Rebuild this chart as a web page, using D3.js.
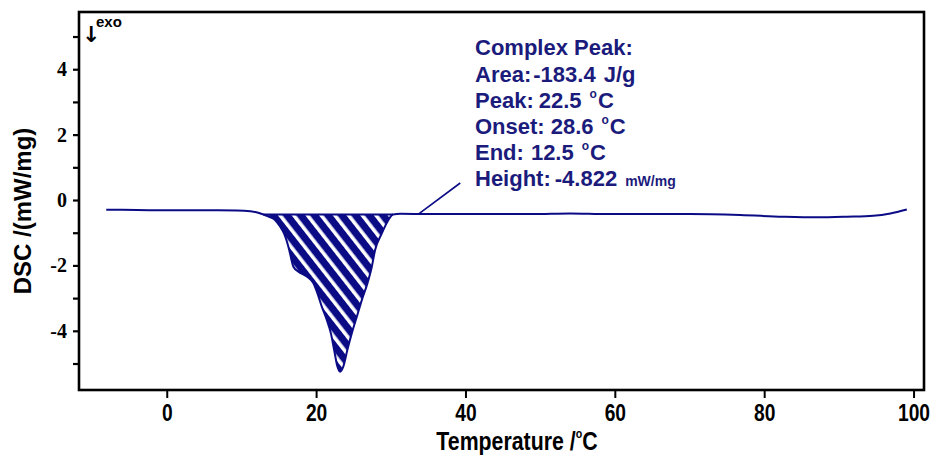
<!DOCTYPE html>
<html>
<head>
<meta charset="utf-8">
<script src="https://cdn.jsdelivr.net/npm/d3@7"></script>
<style>
  html, body { margin: 0; padding: 0; background: #fff; }
  svg { display: block; }
</style>
</head>
<body>
<svg id="chart" width="932" height="462"></svg>
<script>
// ---- data ----
const temps = [-8.1, -6, -2, 2, 5.4, 9.4, 11.2, 12.0, 12.9, 13.8, 14.5, 15.2, 15.7, 16.4, 16.65, 16.96, 17.63, 18.75, 19.64, 20.17, 20.76, 21.43, 21.97, 22.41, 22.85, 23.21, 23.65, 24.19, 24.78, 25.45, 26.12, 26.87, 27.46, 27.9, 28.8, 29.68, 30.3, 31.3, 35, 40, 49, 54, 59, 65, 70, 76.8, 82.5, 87.1, 91.1, 94.6, 96.9, 99.1];
const dsc   = [-0.30, -0.30, -0.31, -0.31, -0.315, -0.32, -0.345, -0.375, -0.44, -0.52, -0.61, -0.82, -1.02, -1.53, -1.78, -2.04, -2.19, -2.34, -2.55, -2.85, -3.26, -3.67, -4.07, -4.58, -5.09, -5.25, -5.09, -4.58, -4.07, -3.57, -3.06, -2.55, -2.04, -1.53, -1.02, -0.61, -0.44, -0.42, -0.43, -0.43, -0.43, -0.41, -0.43, -0.43, -0.43, -0.46, -0.51, -0.53, -0.51, -0.48, -0.41, -0.29];
const peakStart = 12.9, peakEnd = 30.3, peakBase = -0.44;
const leaderFrom = [33.7, -0.43], leaderTo = [39.3, 0.52];
const xTicks = [0, 20, 40, 60, 80, 100];
const yTicks = [-5, -4, -3, -2, -1, 0, 1, 2, 3, 4, 5];
const yLabelled = [-4, -2, 0, 2, 4];
const xDomain = [-11.75, 101.4];
const yDomain = [-5.81, 5.75];
const xTitle = "Temperature /";
const yTitle = "DSC /(mW/mg)";
const infoTitle = "Complex Peak:";
const infoArea = ["Area:", "-183.4", "J/g"];
const infoPeak = ["Peak:", "22.5"];
const infoOnset = ["Onset:", "28.6"];
const infoEnd = ["End:", "12.5"];
const infoHeight = ["Height:", "-4.822", "mW/mg"];

(function () {
// ---- layout ----
const pLeft = 79, pRight = 924, pTop = 12, pBottom = 390;
const navy = "#0b0b86";
const textNavy = "#1b1b7c";
const sans = "'Liberation Sans', Arial, sans-serif";

const svg = d3.select("#chart");
const x = d3.scaleLinear().domain(xDomain).range([pLeft, pRight]);
const y = d3.scaleLinear().domain(yDomain).range([pBottom, pTop]);

// hatch pattern
const defs = svg.append("defs");
const pat = defs.append("pattern")
  .attr("id", "hatch").attr("patternUnits", "userSpaceOnUse")
  .attr("width", 10.8).attr("height", 10.8)
  .attr("patternTransform", "rotate(-38)");
pat.append("rect").attr("width", 10.8).attr("height", 10.8).attr("fill", navy);
pat.append("rect").attr("x", 0).attr("width", 3.6).attr("height", 10.8).attr("fill", "#fff");

const pts = temps.map((t, i) => ({t, v: dsc[i]}));
const peakPts = pts.filter(p => p.t >= peakStart - 1e-9 && p.t <= peakEnd + 1e-9);

// hatched area
svg.append("path")
  .datum(peakPts)
  .attr("fill", "url(#hatch)")
  .attr("d", d3.area().x(p => x(p.t)).y0(y(peakBase)).y1(p => y(p.v)).curve(d3.curveMonotoneX));

// baseline of the peak
svg.append("path")
  .datum([peakStart, peakEnd])
  .attr("fill", "none").attr("stroke", navy).attr("stroke-width", 2)
  .attr("d", d3.line().x(t => x(t)).y(() => y(peakBase)));

// curve
svg.append("path")
  .datum(pts)
  .attr("fill", "none").attr("stroke", navy).attr("stroke-width", 2)
  .attr("d", d3.line().x(p => x(p.t)).y(p => y(p.v)).curve(d3.curveMonotoneX));

// leader line
svg.append("path")
  .datum([leaderFrom, leaderTo])
  .attr("fill", "none").attr("stroke", navy).attr("stroke-width", 1.6)
  .attr("d", d3.line().x(d => x(d[0])).y(d => y(d[1])));

// axes
const xAxis = svg.append("g").attr("transform", `translate(0,${pBottom})`)
  .call(d3.axisBottom(x).tickValues(xTicks).tickSize(8).tickPadding(6).tickFormat(d => String(d)));
xAxis.select(".domain").remove();
xAxis.selectAll(".tick line").attr("stroke", "#000").attr("stroke-width", 2);
xAxis.selectAll(".tick text")
  .attr("font-family", sans)
  .attr("font-weight", "bold").attr("font-size", 24).attr("fill", "#000")
  .attr("transform", "scale(0.8,1)");

const yAxis = svg.append("g").attr("transform", `translate(${pLeft},0)`)
  .call(d3.axisLeft(y).tickValues(yTicks).tickSize(6).tickPadding(6)
    .tickFormat(d => yLabelled.includes(d) ? String(d) : ""));
yAxis.select(".domain").remove();
yAxis.selectAll(".tick line").attr("stroke", "#000").attr("stroke-width", 2.2);
yAxis.selectAll(".tick text")
  .attr("font-family", "'Liberation Serif', 'Times New Roman', serif")
  .attr("font-weight", "bold").attr("font-size", 20).attr("fill", "#000");

// frame
svg.append("rect")
  .attr("x", pLeft).attr("y", pTop).attr("width", pRight - pLeft).attr("height", pBottom - pTop)
  .attr("fill", "none").attr("stroke", "#000").attr("stroke-width", 2.6);

// axis titles
const xt = svg.append("g").attr("transform", "translate(517,450) scale(0.82,1)")
  .append("text").attr("text-anchor", "middle")
  .attr("font-family", sans)
  .attr("font-weight", "bold").attr("font-size", 26).attr("fill", "#000");
xt.append("tspan").text(xTitle);
xt.append("tspan").attr("font-size", 13).attr("dy", -12).text("o");
xt.append("tspan").attr("dy", 12).text("C");

svg.append("text")
  .attr("transform", "translate(31,211) rotate(-90)")
  .attr("text-anchor", "middle")
  .attr("font-family", sans)
  .attr("font-weight", "bold").attr("font-size", 24).attr("fill", "#000")
  .text(yTitle);

// exo marker
svg.append("text").attr("x", 82).attr("y", 42)
  .attr("font-family", "'DejaVu Sans', sans-serif").attr("font-weight", "bold")
  .attr("font-size", 22).attr("fill", "#000").text("↓");
svg.append("text").attr("x", 96).attr("y", 27)
  .attr("font-family", sans).attr("font-weight", "bold")
  .attr("font-size", 15).attr("fill", "#000").text("exo");

// annotation block
const ann = svg.append("g")
  .attr("font-family", sans)
  .attr("font-weight", "bold").attr("font-size", 22).attr("fill", textNavy);
const ax = 475;
ann.append("text").attr("x", ax).attr("y", 55).text(infoTitle);

let t = ann.append("text").attr("x", ax).attr("y", 81.5);
t.append("tspan").text(infoArea[0]);
t.append("tspan").attr("dx", 2).text(infoArea[1]);
t.append("tspan").attr("dx", 8).text(infoArea[2]);

function degLine(yy, parts, gap) {
  const tt = ann.append("text").attr("x", ax).attr("y", yy);
  tt.append("tspan").text(parts[0]);
  tt.append("tspan").attr("dx", gap).text(parts[1]);
  tt.append("tspan").attr("dx", 8).attr("dy", -10).attr("font-size", 12).text("o");
  tt.append("tspan").attr("dx", 1).attr("dy", 10).text("C");
}
degLine(107.5, infoPeak, 5);
degLine(133.5, infoOnset, 6);
degLine(160, infoEnd, 7);

t = ann.append("text").attr("x", ax).attr("y", 186);
t.append("tspan").text(infoHeight[0]);
t.append("tspan").attr("dx", 4).text(infoHeight[1]);
t.append("tspan").attr("dx", 8).attr("font-size", 14).text(infoHeight[2]);
})();
</script>
</body>
</html>
